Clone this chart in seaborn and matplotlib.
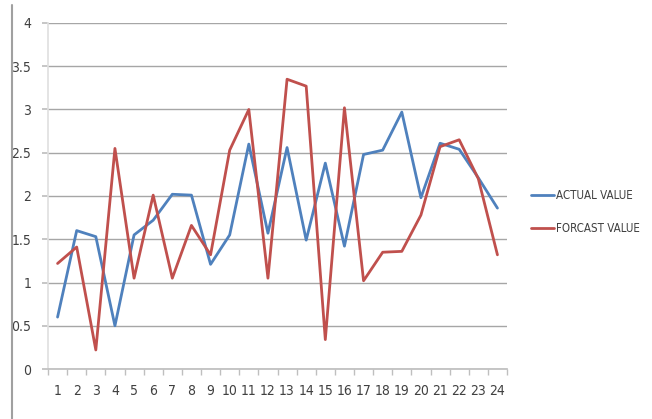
import matplotlib
matplotlib.use("Agg")
import matplotlib.pyplot as plt
from matplotlib.lines import Line2D
import seaborn as sns
import pandas as pd
import numpy as np

periods = list(range(1, 25))
actual_value = [0.60, 1.60, 1.53, 0.50, 1.55, 1.72, 2.02, 2.01, 1.21, 1.55,
                2.60, 1.57, 2.56, 1.49, 2.38, 1.42, 2.48, 2.53, 2.97, 1.98,
                2.61, 2.54, 2.21, 1.86]
forcast_value = [1.22, 1.41, 0.22, 2.55, 1.05, 2.01, 1.05, 1.66, 1.32, 2.53,
                 3.00, 1.05, 3.35, 3.27, 0.34, 3.02, 1.02, 1.35, 1.36, 1.78,
                 2.57, 2.65, 2.20, 1.32]
series_names = ["ACTUAL VALUE", "FORCAST VALUE"]
y_ticks = [0, 0.5, 1, 1.5, 2, 2.5, 3, 3.5, 4]
y_tick_labels = ["0", "0.5", "1", "1.5", "2", "2.5", "3", "3.5", "4"]

df = pd.DataFrame({
    "period": periods * 2,
    "value": actual_value + forcast_value,
    "series": [series_names[0]] * 24 + [series_names[1]] * 24,
})

sns.set_theme(style="white")
plt.rcParams["font.family"] = ["DejaVu Sans"]
plt.rcParams["font.stretch"] = "condensed"

fig = plt.figure(figsize=(6.52, 4.19), dpi=100)
ax = fig.add_axes([48 / 652, 1 - 369 / 419, (507 - 48) / 652, (369 - 23) / 419])

sns.lineplot(data=df, x="period", y="value", hue="series",
             palette={series_names[0]: "#4F81BD", series_names[1]: "#C0504D"},
             linewidth=2.0, ax=ax, legend=False)

ax.set_xlim(0.5, 24.5)
ax.set_ylim(0, 4)
ax.set_yticks(y_ticks)
ax.set_yticklabels(y_tick_labels)
ax.set_xticks(periods)
ax.set_xticklabels([str(p) for p in periods])
ax.set_xticks(np.arange(0.5, 25, 1), minor=True)
ax.set_xlabel("")
ax.set_ylabel("")
ax.grid(axis="y", color="#A6A6A6", linewidth=1.0)
ax.set_axisbelow(True)
ax.tick_params(axis="x", which="major", length=0, pad=11, labelsize=10, colors="#404040")
ax.tick_params(axis="x", which="minor", length=4, color="#BFBFBF", direction="out", bottom=True)
ax.tick_params(axis="y", length=4, color="#BFBFBF", left=True, pad=8, labelsize=10,
               labelcolor="#404040")
for s in ["top", "right"]:
    ax.spines[s].set_visible(False)
ax.spines["left"].set_color("#E0E0E0")
ax.spines["bottom"].set_color("#BFBFBF")

handles = [Line2D([0], [0], color="#4F81BD", lw=2.0),
           Line2D([0], [0], color="#C0504D", lw=2.0)]
fig.legend(handles, series_names, loc="center left",
           bbox_to_anchor=(521 / 652, 1 - 212 / 419), frameon=False,
           fontsize=8.3, handlelength=2.0, handletextpad=0.1, labelspacing=1.8,
           labelcolor="#404040")

fig.add_artist(Line2D([12 / 652, 12 / 652], [0, 1 - 5 / 419], color="#A0A0A0", lw=1.5))

fig.savefig("out.png", dpi=100, facecolor="white")
